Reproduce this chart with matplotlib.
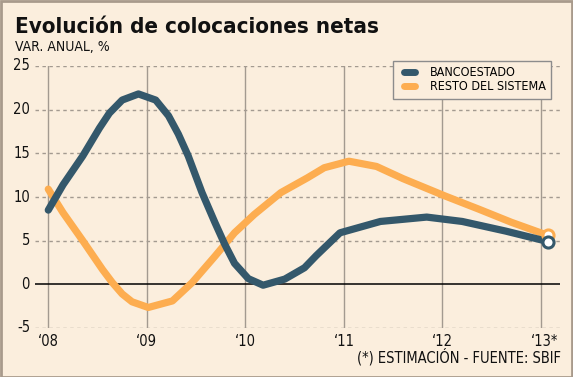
import matplotlib
matplotlib.use("Agg")
import matplotlib.pyplot as plt
from matplotlib.patches import Rectangle
from matplotlib.lines import Line2D
from matplotlib.legend_handler import HandlerLine2D
from matplotlib import font_manager

# ---- data ----
title = "Evolución de colocaciones netas"
subtitle = "VAR. ANUAL, %"
source = "(*) ESTIMACIÓN - FUENTE: SBIF"
tick_years = [2008, 2009, 2010, 2011, 2012, 2013]
tick_labels = ["‘08", "‘09", "‘10", "‘11", "‘12", "‘13*"]
y_ticks = [-5, 0, 5, 10, 15, 20, 25]
series_names = ["BANCOESTADO", "RESTO DEL SISTEMA"]

banco_x = [2008.0, 2008.15, 2008.35, 2008.52, 2008.62, 2008.75, 2008.915, 2009.09,
           2009.22, 2009.32, 2009.42, 2009.56, 2009.69, 2009.79, 2009.89, 2010.03,
           2010.18, 2010.40, 2010.60, 2010.72, 2010.96, 2011.37, 2011.84, 2012.20,
           2012.64, 2013.07]
banco_y = [8.5, 11.4, 14.7, 17.9, 19.6, 21.1, 21.8, 21.1,
           19.3, 17.2, 14.7, 10.5, 7.1, 4.6, 2.4, 0.65,
           -0.1, 0.6, 1.9, 3.3, 5.9, 7.2, 7.7, 7.2,
           6.1, 4.9]

resto_x = [2008.0, 2008.15, 2008.35, 2008.55, 2008.65, 2008.75, 2008.85, 2009.015,
           2009.26, 2009.46, 2009.69, 2009.89, 2010.09, 2010.36, 2010.63, 2010.80,
           2011.05, 2011.33, 2011.60, 2012.03, 2012.37, 2012.70, 2013.07]
resto_y = [10.9, 8.2, 5.0, 1.7, 0.2, -1.1, -2.0, -2.65,
           -1.9, 0.2, 3.2, 5.9, 8.0, 10.5, 12.2, 13.35,
           14.1, 13.5, 12.1, 10.1, 8.6, 7.1, 5.6]

# ---- fonts ----
cond = [f for f in font_manager.fontManager.ttflist
        if f.name == "DejaVu Sans" and f.stretch in ("condensed", "semi-condensed")]
if cond:
    FONT = dict(family="DejaVu Sans", stretch="condensed")
else:
    FONT = dict(family="Lato")

# ---- style ----
BG = "#FBEEDD"
BLUE = "#34586B"
ORANGE = "#FDAD50"
GRID = "#A39A90"
TXT = "#111111"

W, H = 573, 377
fig = plt.figure(figsize=(W / 100, H / 100), dpi=100, facecolor=BG)
ax = fig.add_axes([35 / W, 1 - 328 / H, (560 - 35) / W, (328 - 66) / H])
ax.set_facecolor(BG)
for s in ax.spines.values():
    s.set_visible(False)

x0 = 2008 - 13.3 / 98.8
x1 = 2013 + 19 / 98.8
ax.set_xlim(x0, x1)
ax.set_ylim(-5, 25)

for yv in y_ticks:
    if yv == 0:
        ax.axhline(0, color="black", lw=1.1, zorder=2)
    else:
        ax.axhline(yv, color=GRID, lw=1.0, ls=(0, (2.5, 2.5)), zorder=1)
for xv in tick_years:
    ax.plot([xv, xv], [-5, 25], color=GRID, lw=1.0, zorder=1)

ax.set_xticks([])
ax.set_yticks([])

for yv in y_ticks:
    ax.text(-5 / 525, (yv + 5) / 30, str(yv), transform=ax.transAxes,
            ha="right", va="center", fontsize=10.5, color=TXT, **FONT)
for xv, lab in zip(tick_years, tick_labels):
    ax.text(xv + (0.04 if "*" in lab else 0), -6.5, lab, ha="center", va="center",
            fontsize=10.5, color=TXT, clip_on=False, **FONT)

ax.plot(resto_x, resto_y, color=ORANGE, lw=5.2, solid_capstyle="round",
        solid_joinstyle="round", zorder=3)
ax.plot(banco_x, banco_y, color=BLUE, lw=5.2, solid_capstyle="round",
        solid_joinstyle="round", zorder=4)
ax.plot(resto_x[-1:], resto_y[-1:], "o", ms=8, mfc="white", mec=ORANGE, mew=2.2, zorder=5)
ax.plot(banco_x[-1:], banco_y[-1:], "o", ms=8, mfc="white", mec=BLUE, mew=2.2, zorder=6)


class InsetLine(HandlerLine2D):
    def get_xdata(self, legend, xdescent, ydescent, width, height, fontsize):
        xd, xdm = super().get_xdata(legend, xdescent, ydescent, width, height, fontsize)
        return [-xdescent + 0.275 * width, -xdescent + 0.825 * width], xdm


handles = [Line2D([], [], color=BLUE, lw=5, solid_capstyle="round"),
           Line2D([], [], color=ORANGE, lw=5, solid_capstyle="round")]
leg = fig.legend(handles, series_names, loc="upper right",
                 bbox_to_anchor=(551 / W, 1 - 61 / H), frameon=True, fancybox=False,
                 facecolor=BG, edgecolor="#8C8C8C", framealpha=1,
                 handlelength=1.6, handletextpad=0.96, labelspacing=0.12,
                 borderpad=0.4, borderaxespad=0,
                 handler_map={Line2D: InsetLine()},
                 prop=font_manager.FontProperties(size=9, **FONT))
leg.get_frame().set_linewidth(1.0)
leg.set_zorder(10)

fig.text(15 / W, 1 - 27 / H, title, ha="left", va="center", fontsize=16,
         fontweight="bold", color=TXT, **FONT)
fig.text(15 / W, 1 - 47 / H, subtitle, ha="left", va="center", fontsize=10,
         color=TXT, **FONT)
fig.text(561 / W, 1 - 357 / H, source, ha="right", va="center", fontsize=10.5,
         color=TXT, **FONT)

fig.patches.append(Rectangle((0.5 / W, 0.5 / H), 1 - 1.5 / W, 1 - 1.5 / H,
                             transform=fig.transFigure, fill=False,
                             edgecolor="#A89A8C", lw=2))

fig.savefig("out.png", dpi=100, facecolor=BG)
